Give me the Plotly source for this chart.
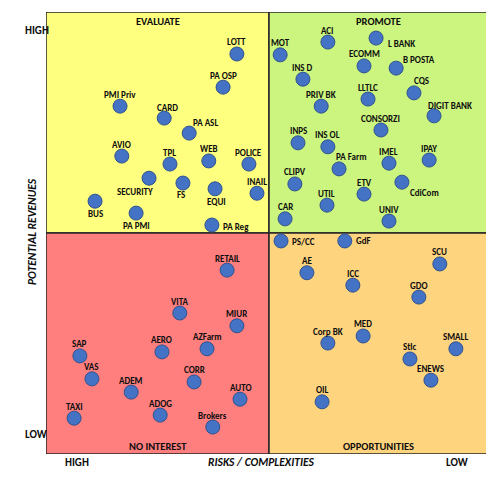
import plotly.graph_objects as go

# ---- data (risk/complexity score on x: 0 = high ... 100 = low; revenue on y: 0 = low ... 100 = high)
names_tl = ["LOTT", "PA OSP", "PMI Priv", "CARD", "PA ASL", "AVIO", "TPL", "WEB", "POLICE",
            "SECURITY", "FS", "EQUI", "INAIL", "BUS", "PA PMI", "PA Reg"]
x_tl = [42.8, 39.7, 16.6, 26.5, 32.1, 17.0, 27.8, 36.5, 45.5, 23.1, 30.7, 37.9, 47.3, 11.0, 20.2, 37.2]
y_tl = [90.5, 83.0, 78.7, 76.0, 72.6, 67.4, 65.6, 66.3, 65.6, 62.4, 61.3, 60.0, 59.0, 57.2, 54.5, 51.8]

names_tr = ["ACI", "MOT", "L BANK", "ECOMM", "B POSTA", "INS D", "CQS", "LLTLC", "PRIV BK",
            "DIGIT BANK", "CONSORZI", "INPS", "INS OL", "IMEL", "IPAY", "PA Farm", "CLIPV",
            "CdiCom", "ETV", "UTIL", "CAR", "UNIV"]
x_tr = [63.2, 52.5, 74.0, 71.3, 78.5, 57.6, 82.5, 72.2, 61.7, 87.0, 75.1, 56.5, 63.2, 76.9,
        85.9, 65.7, 55.8, 79.8, 71.3, 63.0, 53.6, 76.9]
y_tr = [93.2, 90.3, 94.1, 87.8, 87.3, 84.8, 81.7, 80.3, 78.7, 76.5, 73.3, 70.4, 69.5, 65.8,
        66.5, 64.5, 61.1, 61.5, 58.8, 56.3, 53.2, 52.7]

names_br = ["PS/CC", "GdF", "SCU", "AE", "ICC", "GDO", "MED", "Corp BK", "SMALL", "Stlc", "ENEWS", "OIL"]
x_br = [52.7, 67.0, 88.3, 58.5, 68.8, 83.6, 71.1, 63.2, 91.9, 81.6, 86.3, 61.9]
y_br = [48.2, 48.2, 43.0, 41.0, 38.2, 35.5, 26.7, 25.1, 23.8, 21.5, 16.7, 11.8]

names_bl = ["RETAIL", "VITA", "MIUR", "SAP", "AERO", "AZFarm", "VAS", "CORR", "ADEM", "AUTO",
            "TAXI", "ADOG", "Brokers"]
x_bl = [40.6, 30.0, 42.8, 7.6, 26.0, 36.1, 10.3, 33.2, 19.1, 43.5, 6.3, 25.6, 37.4]
y_bl = [41.6, 31.9, 29.0, 22.2, 23.1, 23.8, 17.0, 16.3, 14.0, 12.4, 8.1, 8.8, 6.1]

quadrant_titles = ["EVALUATE", "PROMOTE", "NO INTEREST", "OPPORTUNITIES"]
x_axis_title = "RISKS / COMPLEXITIES"
y_axis_title = "POTENTIAL REVENUES"
x_ticks = ["HIGH", "LOW"]
y_ticks = ["LOW", "HIGH"]

# ---- label placement (pixel offsets from the marker centre)
label_place = {
    "SECURITY": (-14, -13, "center"), "FS": (-2, -11, "center"), "EQUI": (1, -13, "center"),
    "BUS": (0, -12, "center"), "PA PMI": (0, -12, "center"), "PA Reg": (9, -1, "left"),
    "PA ASL": (16, 11, "center"), "L BANK": (10, -5, "left"), "B POSTA": (5, 9, "left"),
    "CQS": (8, 12, "center"), "DIGIT BANK": (16, 10, "center"), "PA Farm": (12, 12, "center"),
    "CdiCom": (6, -10, "left"), "PS/CC": (9, -1, "left"), "GdF": (9, 0, "left"),
    "CARD": (3, 11, "center"),
}

FONT = "Carlito, Roboto, sans-serif"
LBL = 9
TTL = 10.5
X_MAX = 98.65
INK = "#0d0d0d"

fig = go.Figure()

# quadrant backgrounds
quads = [
    (0, 50, 50, 100, "#FFFF7F"),
    (50, 103, 50, 100, "#CCF57F"),
    (0, 50, 0, 50, "#FF7F7F"),
    (50, 103, 0, 50, "#FFD47F"),
]
for x0, x1, y0, y1, c in quads:
    fig.add_shape(type="rect", x0=x0, x1=x1, y0=y0, y1=y1, xref="x", yref="y",
                  fillcolor=c, line=dict(color="#262626", width=1.5), layer="below")

all_names = names_tl + names_tr + names_br + names_bl
all_x = x_tl + x_tr + x_br + x_bl
all_y = y_tl + y_tr + y_br + y_bl

fig.add_trace(go.Scatter(
    x=all_x, y=all_y, mode="markers", hoverinfo="text", text=all_names,
    marker=dict(size=14, color="#4472C4", line=dict(color="#2F528F", width=1)),
    showlegend=False, cliponaxis=False,
))

for n, xv, yv in zip(all_names, all_x, all_y):
    dx, dy, anc = label_place.get(n, (0, 12, "center"))
    fig.add_annotation(x=xv, y=yv, xref="x", yref="y", text="<b>%s</b>" % n, showarrow=False,
                       xshift=dx, yshift=dy, xanchor=anc, yanchor="middle",
                       font=dict(family=FONT, size=LBL, color=INK))

# quadrant titles
qpos = [(25, 100, "top"), (74.5, 100, "top"), (25, 0, "bottom"), (74.5, 0, "bottom")]
for t, (xv, yv, ya) in zip(quadrant_titles, qpos):
    fig.add_annotation(x=xv, y=yv, xref="x", yref="y", text="<b>%s</b>" % t, showarrow=False,
                       yanchor=ya, yshift=-1 if ya == "top" else -1,
                       font=dict(family=FONT, size=TTL, color=INK))

# axis end labels (given in pixel positions, converted below)
pix_labels = [
    (23, 22, "<b>%s</b>" % y_ticks[1], 11, 0),
    (23, 443, "<b>%s</b>" % y_ticks[0], 11, 0),
    (63, 471, "<b>%s</b>" % x_ticks[0], 11, 0),
    (470, 471, "<b>%s</b>" % x_ticks[1], 11, 0),
    (261, 471, "<b><i>%s</i></b>" % x_axis_title, 11.5, 0),
    (23, 232, "<b><i>%s</i></b>" % y_axis_title, 11.5, -90),
]

W, H = 486, 477
L, R, T, B = 46, 0, 12, 23
for px, py, txt, sz, ang in pix_labels:
    fig.add_annotation(x=(px - L) / (W - L - R), y=(H - B - py) / (H - T - B),
                       xref="paper", yref="paper", text=txt, showarrow=False, textangle=ang,
                       font=dict(family=FONT, size=sz, color=INK))

fig.update_layout(
    width=W, height=H, margin=dict(l=L, r=R, t=T, b=B),
    paper_bgcolor="white", plot_bgcolor="white",
    xaxis=dict(range=[0, X_MAX], showgrid=False, zeroline=False, showticklabels=False,
               showline=False, ticks="", fixedrange=True),
    yaxis=dict(range=[0, 100], showgrid=False, zeroline=False, showticklabels=False,
               showline=False, ticks="", fixedrange=True),
)

fig.write_html("out.html")
